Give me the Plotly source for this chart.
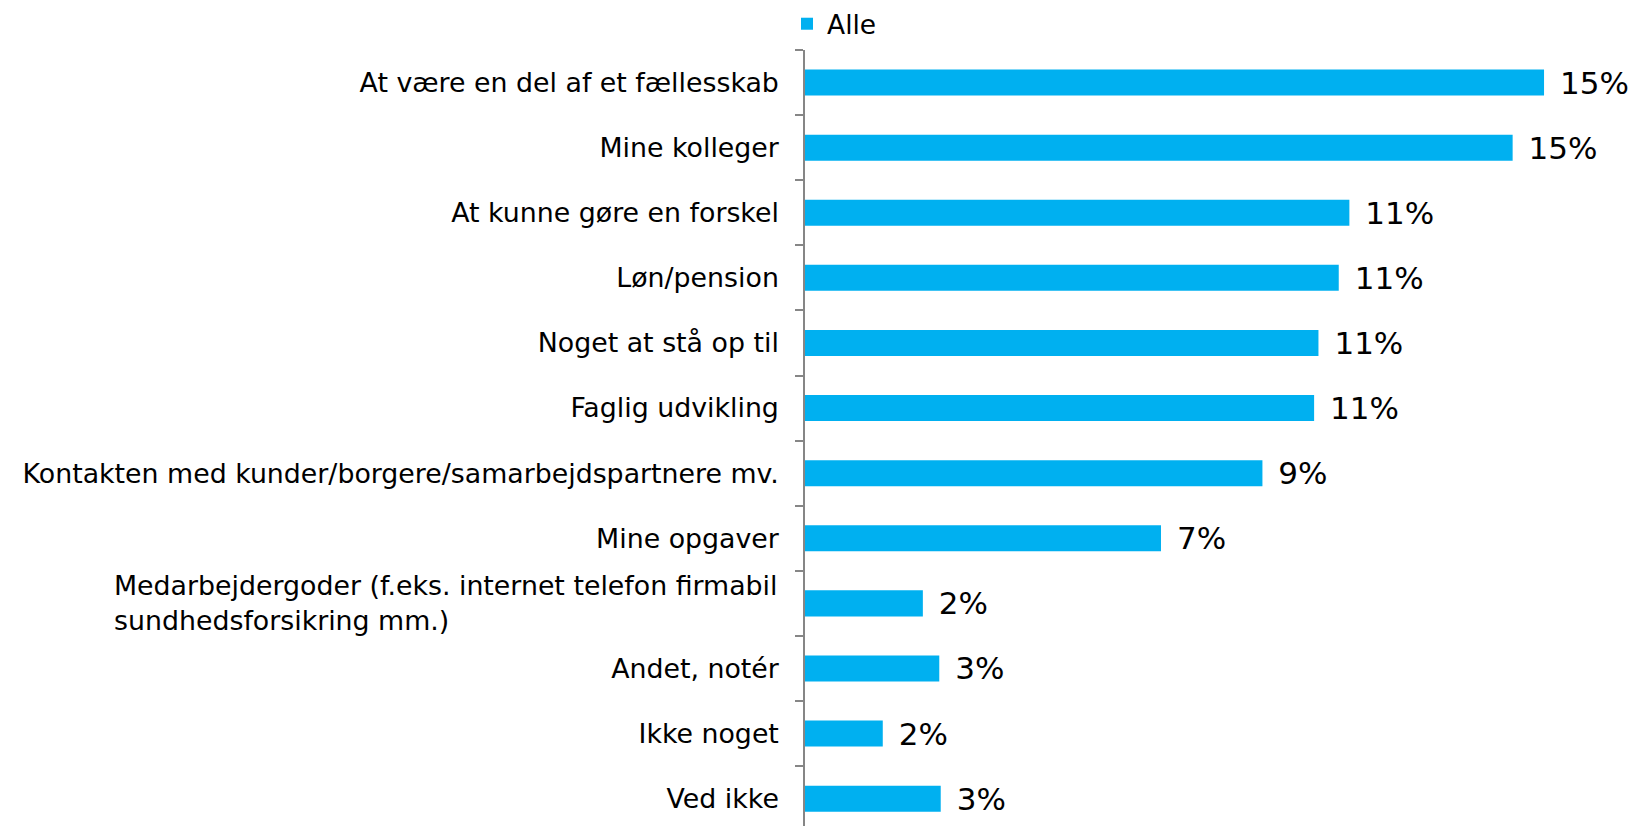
import plotly.graph_objects as go

categories = [
    "At være en del af et fællesskab",
    "Mine kolleger",
    "At kunne gøre en forskel",
    "Løn/pension",
    "Noget at stå op til",
    "Faglig udvikling",
    "Kontakten med kunder/borgere/samarbejdspartnere mv.",
    "Mine opgaver",
    "Medarbejdergoder (f.eks. internet telefon firmabil<br>sundhedsforsikring mm.)",
    "Andet, notér",
    "Ikke noget",
    "Ved ikke",
]
values = [15.30, 14.65, 11.27, 11.05, 10.63, 10.54, 9.47, 7.37, 2.44, 2.78, 1.61, 2.81]
series_name = "Alle"

FONT = "DejaVu Sans"
BLUE = "#00B0F0"
AXIS = "#868686"
CAT_SIZE = 26.8

ticktext = ["" if "<br>" in c else c for c in categories]

fig = go.Figure()
fig.add_trace(go.Bar(
    x=values,
    y=categories,
    orientation="h",
    name=series_name,
    marker=dict(color=BLUE, line=dict(width=0)),
    texttemplate="\u00a0\u200a%{x:.0f}%",
    textposition="outside",
    constraintext="none",
    textfont=dict(family=FONT, size=31, color="#000000"),
    cliponaxis=False,
    hoverinfo="skip",
))

for c in categories:
    if "<br>" in c:
        fig.add_annotation(
            x=0, xref="paper", y=c, yref="y",
            text=c, showarrow=False,
            xanchor="right", yanchor="middle", align="left",
            xshift=-25,
            font=dict(family=FONT, size=CAT_SIZE, color="#000000"),
        )

fig.update_layout(
    width=1632, height=826,
    margin=dict(l=805, r=30, t=50, b=0, pad=0, autoexpand=False),
    paper_bgcolor="white", plot_bgcolor="white",
    bargap=0.6,
    showlegend=True,
    legend=dict(
        orientation="h", xref="container", yref="container",
        x=787 / 1632, xanchor="left", y=1 - 24 / 826, yanchor="middle",
        font=dict(family=FONT, size=26.5, color="#000000"),
        bgcolor="rgba(0,0,0,0)", itemwidth=30,
    ),
    font=dict(family=FONT, color="#000000"),
    xaxis=dict(range=[0, 16.5], visible=False, showgrid=False, zeroline=False),
    yaxis=dict(
        range=[11.42, -0.5],
        tickmode="array", tickvals=categories, ticktext=ticktext,
        tickson="boundaries", ticks="outside", ticklen=8, tickcolor=AXIS, tickwidth=1.5,
        showline=True, linecolor=AXIS, linewidth=1.5,
        showgrid=False, zeroline=False, automargin=False,
        ticklabelstandoff=19,
        tickfont=dict(family=FONT, size=CAT_SIZE, color="#000000"),
    ),
)

fig.write_html(
    "out.html",
    config={"displayModeBar": False},
    post_script="document.body.style.margin='0';",
)
